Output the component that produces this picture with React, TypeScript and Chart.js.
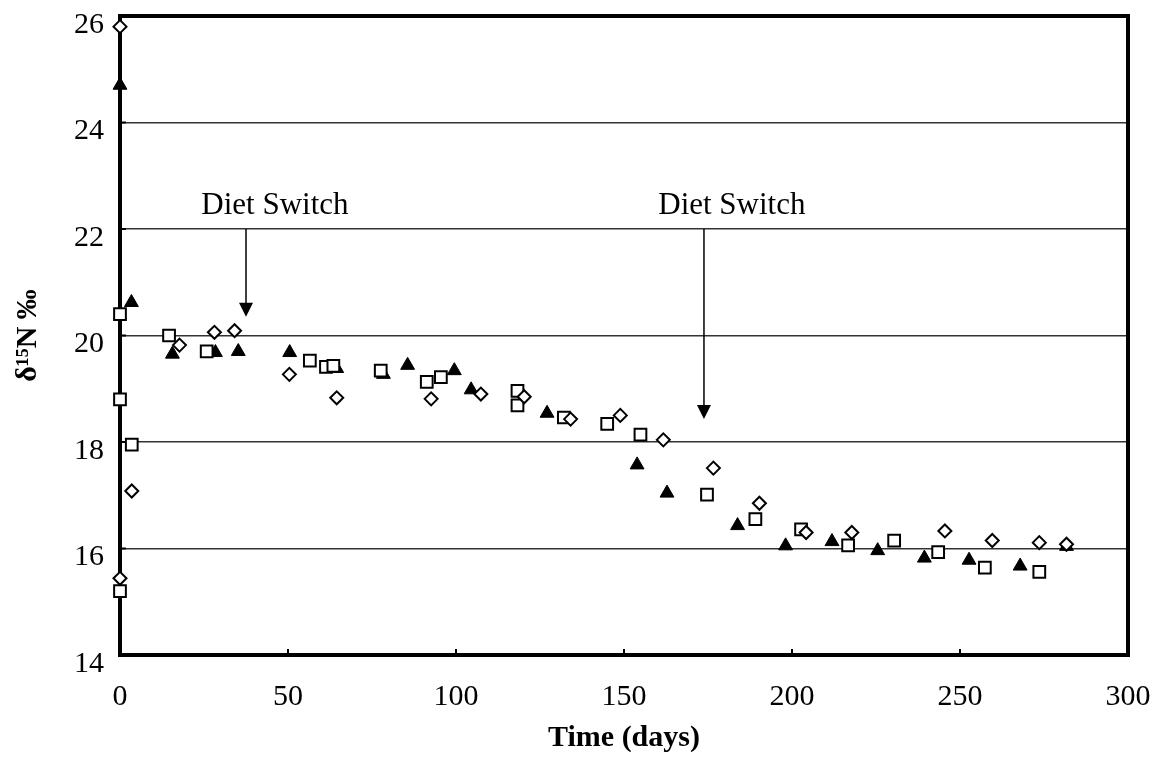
import React, { useEffect, useRef } from 'react';
import { Chart, registerables } from 'chart.js';

Chart.register(...registerables);

// ---- data ----
const squareDays = [0, 0, 3.5, 0, 14.6, 25.8, 56.5, 61.3, 63.5, 77.6, 91.3, 95.5, 118.3, 118.3, 132.1, 145.0, 154.9, 174.7, 189.1, 202.7, 216.7, 230.4, 243.5, 257.4, 273.6];
const squareValues = [20.4, 18.8, 17.95, 15.2, 20.0, 19.7, 19.53, 19.41, 19.43, 19.34, 19.13, 19.22, 18.96, 18.69, 18.46, 18.34, 18.14, 17.01, 16.55, 16.36, 16.06, 16.15, 15.93, 15.64, 15.56];

const diamondDays = [0, 3.5, 0, 17.7, 28.1, 34.1, 50.4, 64.5, 92.6, 107.4, 120.3, 134.1, 148.9, 161.7, 176.6, 190.3, 204.2, 217.8, 245.5, 259.6, 273.6, 281.7];
const diamondValues = [25.8, 17.08, 15.44, 19.82, 20.06, 20.09, 19.27, 18.83, 18.81, 18.9, 18.85, 18.43, 18.5, 18.04, 17.51, 16.85, 16.3, 16.3, 16.33, 16.15, 16.11, 16.08];

const triangleDays = [0, 3.4, 15.6, 28.4, 35.2, 50.5, 64.5, 78.4, 85.6, 99.5, 104.5, 127.1, 153.9, 162.8, 183.8, 198.1, 211.9, 225.5, 239.4, 252.7, 267.9, 281.7];
const triangleValues = [24.7, 20.62, 19.65, 19.68, 19.7, 19.68, 19.38, 19.27, 19.44, 19.34, 18.98, 18.54, 17.57, 17.04, 16.43, 16.05, 16.13, 15.96, 15.82, 15.78, 15.67, 16.04];

const xTickValues = [0, 50, 100, 150, 200, 250, 300];
const yTickValues = [14, 16, 18, 20, 22, 24, 26];

const annotationTexts = ['Diet Switch', 'Diet Switch'];
const annotationDays = [46.1, 182.1];
const annotationLevel = 22.28;
const arrowDays = [37.5, 173.8];
const arrowTops = [22.0, 22.0];
const arrowTips = [20.35, 18.43];

const xTitle = 'Time (days)';
const yTitle = 'δ¹⁵N ‰';

const SERIF = '"Liberation Serif", "Times New Roman", serif';

const toPoints = (xs: number[], ys: number[]) => xs.map((x, i) => ({ x, y: ys[i] }));

const framePlugin = {
  id: 'frameAndNotes',
  beforeDatasetsDraw(chart: any) {
    const { ctx, chartArea: a, scales } = chart;
    const xs = scales.x;
    const ys = scales.y;
    ctx.save();
    ctx.strokeStyle = '#000';
    ctx.fillStyle = '#000';
    // inward tick marks
    ctx.lineWidth = 2;
    xTickValues.forEach((v) => {
      const px = xs.getPixelForValue(v);
      ctx.beginPath();
      ctx.moveTo(px, a.bottom);
      ctx.lineTo(px, a.bottom - 6);
      ctx.stroke();
    });
    yTickValues.forEach((v) => {
      const py = ys.getPixelForValue(v);
      ctx.beginPath();
      ctx.moveTo(a.left, py);
      ctx.lineTo(a.left + 6, py);
      ctx.stroke();
    });
    // frame
    ctx.lineWidth = 4;
    ctx.strokeRect(a.left, a.top, a.right - a.left, a.bottom - a.top);
    // arrows
    ctx.lineWidth = 1.5;
    arrowDays.forEach((d, i) => {
      const px = xs.getPixelForValue(d);
      const top = ys.getPixelForValue(arrowTops[i]);
      const tip = ys.getPixelForValue(arrowTips[i]);
      ctx.beginPath();
      ctx.moveTo(px, top);
      ctx.lineTo(px, tip - 10);
      ctx.stroke();
      ctx.beginPath();
      ctx.moveTo(px, tip);
      ctx.lineTo(px - 7, tip - 14);
      ctx.lineTo(px + 7, tip - 14);
      ctx.closePath();
      ctx.fill();
    });
    // annotation text
    ctx.font = `31px ${SERIF}`;
    ctx.textAlign = 'center';
    ctx.textBaseline = 'alphabetic';
    annotationTexts.forEach((t, i) => {
      ctx.fillText(t, xs.getPixelForValue(annotationDays[i]), ys.getPixelForValue(annotationLevel));
    });
    ctx.restore();
  },
};

export default function App() {
  const canvasRef = useRef<HTMLCanvasElement | null>(null);

  useEffect(() => {
    if (!canvasRef.current) return;
    const chart = new Chart(canvasRef.current, {
      type: 'scatter',
      data: {
        datasets: [
          {
            label: 'diamonds',
            data: toPoints(diamondDays, diamondValues),
            pointStyle: 'rectRot',
            pointRadius: 6.5,
            pointBorderWidth: 2,
            pointBackgroundColor: '#fff',
            pointBorderColor: '#000',
            clip: false as any,
          },
          {
            label: 'squares',
            data: toPoints(squareDays, squareValues),
            pointStyle: 'rect',
            pointRadius: 8.3,
            pointBorderWidth: 2,
            pointBackgroundColor: '#fff',
            pointBorderColor: '#000',
            clip: false as any,
          },
          {
            label: 'triangles',
            data: toPoints(triangleDays, triangleValues),
            pointStyle: 'triangle',
            pointRadius: 8,
            pointBorderWidth: 1,
            pointBackgroundColor: '#000',
            pointBorderColor: '#000',
            clip: false as any,
          },
        ],
      },
      options: {
        animation: false,
        responsive: false,
        events: [],
        layout: { padding: { top: 16, right: 32, left: 0, bottom: 0 } },
        plugins: {
          legend: { display: false },
          tooltip: { enabled: false },
        },
        scales: {
          x: {
            type: 'linear',
            min: 0,
            max: 300,
            afterFit: (s: any) => {
              s.height = 102;
              s.paddingLeft = 0;
              s.paddingRight = 0;
            },
            afterBuildTicks: (s: any) => {
              s.ticks = xTickValues.map((v) => ({ value: v }));
            },
            ticks: {
              font: { family: SERIF, size: 30 },
              color: '#000',
              padding: 24,
            },
            grid: { display: false, drawTicks: false },
            border: { display: false },
            title: {
              display: true,
              text: xTitle,
              color: '#000',
              font: { family: SERIF, size: 30, weight: 'bold' },
              padding: { top: 0, bottom: 1 },
            },
          },
          y: {
            type: 'linear',
            min: 14,
            max: 26,
            afterFit: (s: any) => {
              s.width = 120;
              s.paddingTop = 0;
              s.paddingBottom = 0;
            },
            afterBuildTicks: (s: any) => {
              s.ticks = yTickValues.map((v) => ({ value: v }));
            },
            ticks: {
              font: { family: SERIF, size: 30 },
              color: '#000',
              padding: 16,
              labelOffset: 9,
            },
            grid: { color: '#333', lineWidth: 1.5, drawTicks: false },
            border: { display: false },
            title: {
              display: true,
              text: yTitle,
              color: '#000',
              font: { family: SERIF, size: 30, weight: 'bold' },
              padding: { top: 10, bottom: 0 },
            },
          },
        },
      },
      plugins: [framePlugin],
    });
    return () => chart.destroy();
  }, []);

  return (
    <div style={{ position: 'fixed', left: 0, top: 0, width: 1160, height: 757, background: '#fff' }}>
      <canvas ref={canvasRef} width={1160} height={757} style={{ display: 'block' }} />
    </div>
  );
}
